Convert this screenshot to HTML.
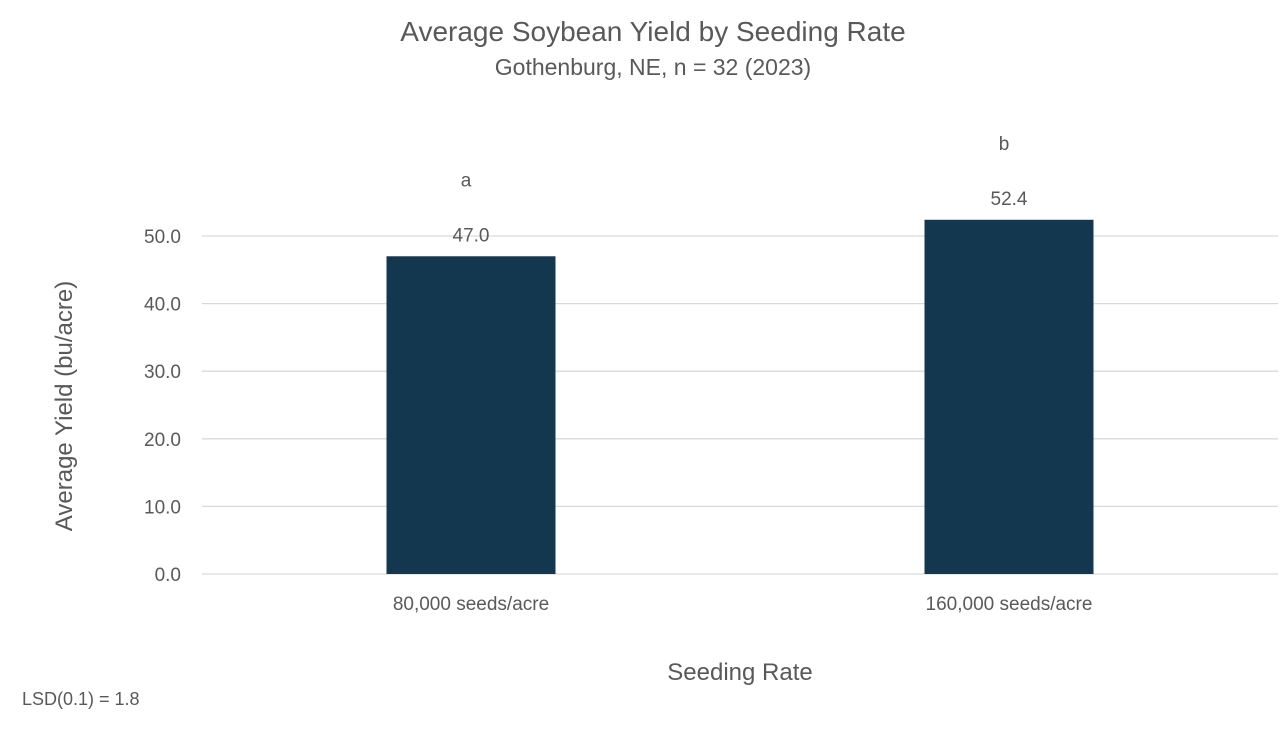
<!DOCTYPE html>
<html><head><meta charset="utf-8"><style>
body{margin:0;background:#fff;font-family:"Liberation Sans",Arial,sans-serif;}
svg text{font-family:"Liberation Sans",Arial,sans-serif;fill:#595959;}
</style></head><body>
<svg width="1280" height="724" viewBox="0 0 1280 724">
<text x="653" y="41" font-size="28" text-anchor="middle">Average Soybean Yield by Seeding Rate</text>
<text x="653" y="75" font-size="23" text-anchor="middle">Gothenburg, NE, n = 32 (2023)</text>
<g id="grid"></g><g id="bars"></g><g id="labels"></g>
<text x="740" y="680" font-size="24" text-anchor="middle">Seeding Rate</text>
<text transform="translate(72,406) rotate(-90)" font-size="24" text-anchor="middle">Average Yield (bu/acre)</text>
<text x="22" y="705" font-size="18">LSD(0.1) = 1.8</text>
</svg>
<script>
const categories=["80,000 seeds/acre","160,000 seeds/acre"];
const values=[47.0,52.4];
const letters=["a","b"];
const yTicks=[0,10,20,30,40,50];
const ns="http://www.w3.org/2000/svg";
const x0=202,x1=1278,yBase=574,pxPer=6.76;
const y=v=>yBase-v*pxPer;
const band=(x1-x0)/categories.length;
function mk(t,a,p){const e=document.createElementNS(ns,t);for(const k in a)e.setAttribute(k,a[k]);document.getElementById(p).appendChild(e);return e;}
yTicks.forEach(t=>{
 const l=mk("line",{x1:x0,x2:x1,y1:y(t),y2:y(t),stroke:"#d9d9d9","stroke-width":1.3},"grid");
 
 
 const tx=mk("text",{x:181,y:y(t)+7,"font-size":19,"text-anchor":"end"},"grid");
 tx.textContent=t.toFixed(1);
 
 
});
categories.forEach((c,i)=>{
 const cx=x0+band*(i+0.5),w=169;
 const r=mk("rect",{x:cx-w/2,y:y(values[i]),width:w,height:yBase-y(values[i]),fill:"#12374f"},"bars");
 
 
 const v=mk("text",{x:cx,y:y(values[i])-15,"font-size":19,"text-anchor":"middle"},"labels");
 v.textContent=values[i].toFixed(1);
 
 
 const s=mk("text",{x:cx-5,y:y(values[i])-70,"font-size":19,"text-anchor":"middle"},"labels");
 s.textContent=letters[i];
 
 
 const xl=mk("text",{x:cx,y:610,"font-size":19,"text-anchor":"middle"},"labels");
 xl.textContent=c;
 
 
});
</script>
</body></html>
